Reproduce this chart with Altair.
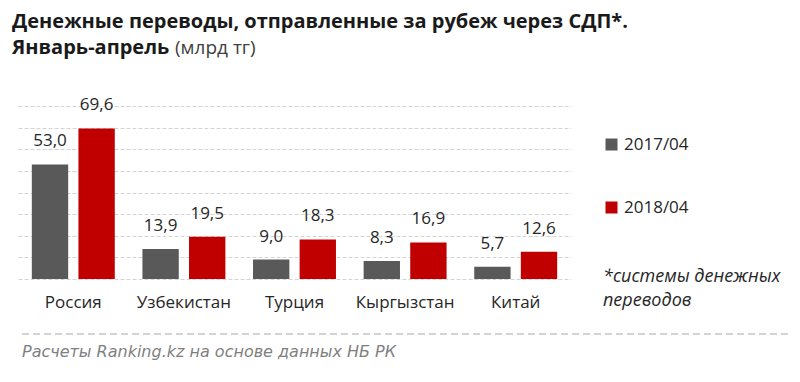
import altair as alt
import pandas as pd

countries = ["Россия", "Узбекистан", "Турция", "Кыргызстан", "Китай"]
years = ["2017/04", "2018/04"]
values_2017 = [53.0, 13.9, 9.0, 8.3, 5.7]
values_2018 = [69.6, 19.5, 18.3, 16.9, 12.6]
colors = ["#595959", "#c00000"]

title1 = "Денежные переводы, отправленные за рубеж через СДП*."
title2a = "Январь-апрель"
title2b = "(млрд тг)"
footnote1 = "*системы денежных"
footnote2 = "переводов"
source = "Расчеты Ranking.kz на основе данных НБ РК"

rows = []
for c, a, b in zip(countries, values_2017, values_2018):
    rows.append({"country": c, "year": years[0], "value": a})
    rows.append({"country": c, "year": years[1], "value": b})
df = pd.DataFrame(rows)
df["label"] = df["value"].map(lambda v: f"{v:.1f}".replace(".", ","))

FONT = "Open Sans"

x = alt.X("country:N", sort=countries, title=None,
          scale=alt.Scale(paddingInner=0.25, paddingOuter=0.125),
          axis=alt.Axis(domain=False, ticks=False, labelFontSize=17, labelPadding=15,
                        labelColor="#262626", labelFont=FONT, labelAngle=0))
xo = alt.XOffset("year:N", sort=years, scale=alt.Scale(paddingInner=0.22))
y = alt.Y("value:Q", title=None,
          scale=alt.Scale(domain=[0, 80]),
          axis=alt.Axis(values=list(range(0, 81, 10)), labels=False, ticks=False, domain=False,
                        grid=True, gridColor="#d4d4d4", gridDash=[4, 2], gridWidth=1))

base = alt.Chart(df)

bars = base.mark_bar().encode(
    x=x, xOffset=xo, y=y,
    color=alt.Color("year:N", sort=years, scale=alt.Scale(domain=years, range=colors),
                    legend=alt.Legend(title=None, orient="none", legendX=585, legendY=30,
                                      symbolType="square", symbolSize=144, symbolStrokeWidth=0,
                                      labelFontSize=17, labelFont=FONT, labelColor="#262626",
                                      labelOffset=4, rowPadding=45, direction="vertical")),
)

labels = base.mark_text(baseline="bottom", dy=-14, fontSize=17, font=FONT, color="#262626").encode(
    x=x, xOffset=xo, y=y, text="label:N"
)

one = pd.DataFrame({"k": [0]})
ann = alt.Chart(one)

def txt(s, px, py, font=FONT, **kw):
    return ann.mark_text(align="left", baseline="alphabetic", font=font, text=s, **kw).encode(
        x=alt.value(px), y=alt.value(py))

t1 = txt(title1, -6, -78, fontSize=20, fontWeight="bold", color="#1a1a1a")
t2a = txt(title2a, -6, -52, fontSize=20, fontWeight="bold", color="#1a1a1a")
t2b = txt(title2b, 157, -52, fontSize=19, color="#404040")
f1 = txt(footnote1, 585, 176, fontSize=18, fontStyle="italic", color="#262626")
f2 = txt(footnote2, 585, 200, fontSize=18, fontStyle="italic", color="#262626")
src = txt(source, 4, 251, font="DejaVu Sans", fontSize=16, fontStyle="italic", color="#7f7f7f")
sep = ann.mark_rule(color="#a6a6a6", strokeDash=[7, 4], strokeWidth=1).encode(
    x=alt.value(4), x2=alt.value(772), y=alt.value(228))

chart = alt.layer(bars, labels, t1, t2a, t2b, f1, f2, src, sep).properties(
    width=553, height=173,
    autosize=alt.AutoSizeParams(type="none"),
    padding={"left": 10, "top": 98, "right": 221, "bottom": 95},
    background="white",
).configure_view(stroke=None)

chart.save("out.html", embed_options={"renderer": "svg", "actions": False})
